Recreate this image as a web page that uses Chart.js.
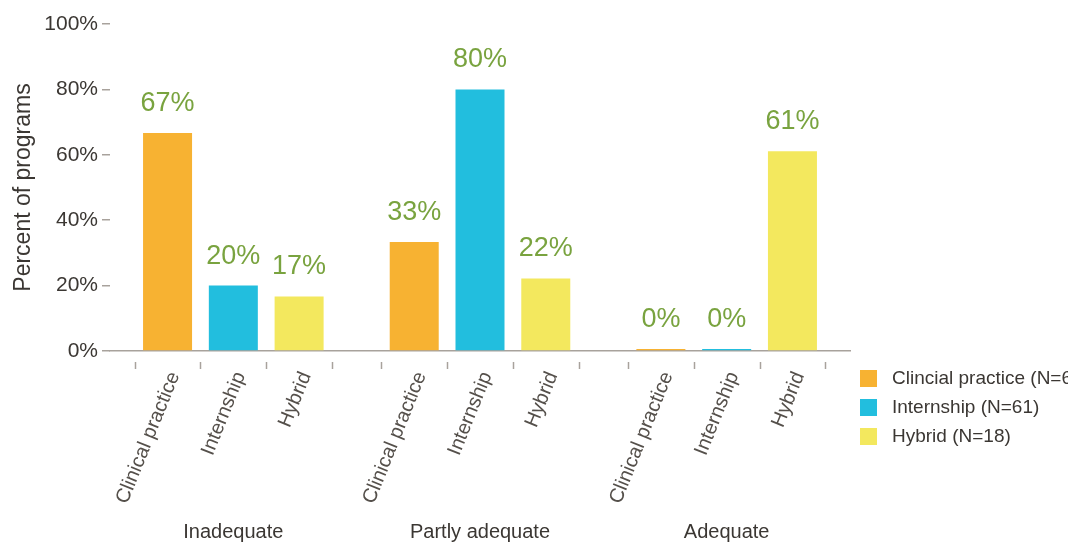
<!DOCTYPE html>
<html lang="en">
<head>
  <meta charset="UTF-8">
  <title>Percent of programs by adequacy</title>
  <script src="https://cdn.jsdelivr.net/npm/chart.js"></script>
  <style>
    body {
      margin: 0;
      background: #ffffff;
    }
    #wrap {
      width: 1068px;
      height: 544px;
      overflow: hidden;
    }
  </style>
</head>
<body>

<div id="wrap">
  <canvas id="grafica" width="1068" height="544"></canvas>
</div>

<script>
  // data
  const groups = ['Inadequate', 'Partly adequate', 'Adequate'];
  const seriesNames = ['Clincial practice (N=6)', 'Internship (N=61)', 'Hybrid (N=18)'];
  const barLabels = ['Clinical practice', 'Internship', 'Hybrid'];
  const clinical = [66.7, 33.3, 0];
  const internship = [20, 80, 0];
  const hybrid = [16.7, 22.2, 61.1];
  const yTicks = [0, 20, 40, 60, 80, 100];

  const colors = ['#f7b232', '#22bede', '#f3e85e'];
  const FONT = "'Liberation Sans', Arial, sans-serif";
  const TEXT = '#3b3733';
  const GREY = '#a8a29c';
  const GREEN = '#79a33f';

  Chart.defaults.font.family = FONT;
  Chart.defaults.color = TEXT;

  // value labels, rotated bar labels, small ticks between bars, legend
  const extras = {
    id: 'extras',
    afterDatasetsDraw(chart) {
      const ctx = chart.ctx;
      const area = chart.chartArea;
      const metas = chart.data.datasets.map((d, i) => chart.getDatasetMeta(i));
      const pitch = metas[1].data[0].x - metas[0].data[0].x;

      ctx.save();
      metas.forEach((meta, i) => {
        const ds = chart.data.datasets[i];
        meta.data.forEach((bar, j) => {
          // value above bar
          ctx.fillStyle = GREEN;
          ctx.font = '27px ' + FONT;
          ctx.textAlign = 'center';
          ctx.textBaseline = 'alphabetic';
          ctx.fillText(Math.round(ds.data[j]) + '%', bar.x, bar.y - 22);

          // rotated label under bar
          ctx.save();
          ctx.translate(bar.x + 12, area.bottom + 24);
          ctx.rotate(-68 * Math.PI / 180);
          ctx.fillStyle = '#55504b';
          ctx.font = '20px ' + FONT;
          ctx.textAlign = 'right';
          ctx.textBaseline = 'alphabetic';
          ctx.fillText(barLabels[i], 0, 0);
          ctx.restore();

          // boundary ticks
          ctx.strokeStyle = GREY;
          ctx.lineWidth = 1.5;
          const xs = [bar.x - pitch / 2];
          if (i === metas.length - 1) xs.push(bar.x + pitch / 2);
          xs.forEach(x => {
            ctx.beginPath();
            ctx.moveTo(Math.round(x) + 0.5, area.bottom + 11);
            ctx.lineTo(Math.round(x) + 0.5, area.bottom + 18);
            ctx.stroke();
          });
        });
      });

      // legend
      ctx.font = '19px ' + FONT;
      ctx.textAlign = 'left';
      ctx.textBaseline = 'middle';
      chart.data.datasets.forEach((ds, i) => {
        const y = area.bottom + 19 + i * 29;
        ctx.fillStyle = ds.backgroundColor;
        ctx.fillRect(area.right + 10, y, 17, 17);
        ctx.fillStyle = TEXT;
        ctx.fillText(ds.label, area.right + 42, y + 9);
      });
      ctx.restore();
    }
  };

  new Chart(document.getElementById('grafica'), {
    type: 'bar',
    data: {
      labels: groups,
      datasets: [
        { label: seriesNames[0], data: clinical, backgroundColor: colors[0] },
        { label: seriesNames[1], data: internship, backgroundColor: colors[1] },
        { label: seriesNames[2], data: hybrid, backgroundColor: colors[2] }
      ]
    },
    options: {
      responsive: false,
      animation: false,
      categoryPercentage: 0.8,
      barPercentage: 0.745,
      minBarLength: 2,
      layout: { padding: { top: 24, right: 218, bottom: 0, left: 0 } },
      plugins: {
        legend: { display: false },
        tooltip: { enabled: false }
      },
      scales: {
        x: {
          grid: { display: false },
          border: { color: GREY, width: 1.5 },
          ticks: { font: { size: 20 }, color: TEXT, padding: 161 },
          afterFit: s => { s.height = 193; s.paddingLeft = 0; s.paddingRight = 0; }
        },
        y: {
          min: 0,
          max: 100,
          afterBuildTicks: s => { s.ticks = yTicks.map(v => ({ value: v })); },
          grid: { drawOnChartArea: false, tickLength: 8, color: GREY, lineWidth: 1.5 },
          border: { display: false },
          ticks: { font: { size: 21 }, color: TEXT, padding: 4, callback: v => v + '%' },
          title: { display: true, text: 'Percent of programs', font: { size: 23 }, color: TEXT, padding: { top: 10, bottom: 4 } },
          afterFit: s => { s.width = 110; }
        }
      }
    },
    plugins: [extras]
  });
</script>

</body>
</html>
